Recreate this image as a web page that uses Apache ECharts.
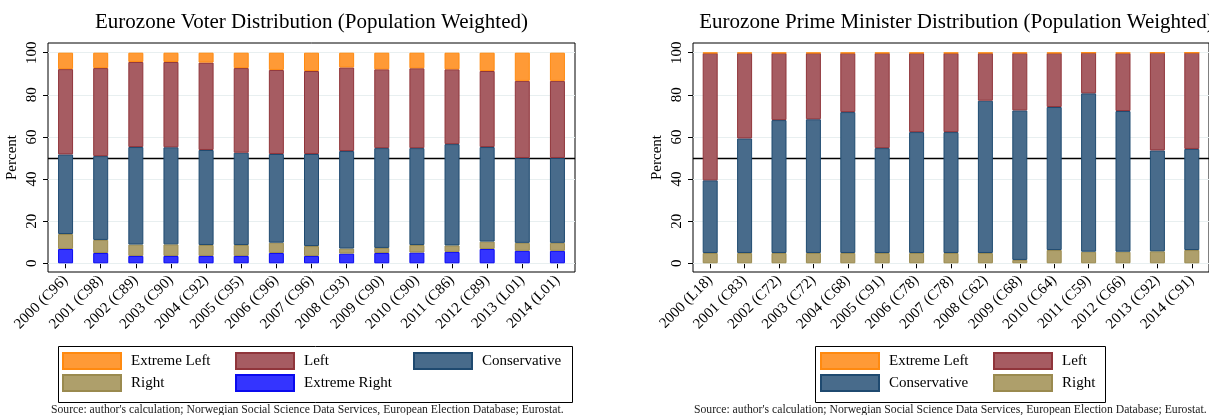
<!DOCTYPE html>
<html>
<head>
<meta charset="utf-8">
<script src="https://cdn.jsdelivr.net/npm/echarts@6/dist/echarts.min.js"></script>
<style>
  html, body { margin: 0; padding: 0; background: #fff; }
  #chart { width: 1209px; height: 415px; }
</style>
</head>
<body>
<div id="chart"></div>
<script>
// Year labels (largest party in brackets)
const voterYears = ['2000 (C96)', '2001 (C98)', '2002 (C89)', '2003 (C90)', '2004 (C92)', '2005 (C95)', '2006 (C96)', '2007 (C96)', '2008 (C93)', '2009 (C90)', '2010 (C90)', '2011 (C86)', '2012 (C89)', '2013 (L01)', '2014 (L01)'];
const pmYears = ['2000 (L18)', '2001 (C83)', '2002 (C72)', '2003 (C72)', '2004 (C68)', '2005 (C91)', '2006 (C78)', '2007 (C78)', '2008 (C62)', '2009 (C68)', '2010 (C64)', '2011 (C59)', '2012 (C66)', '2013 (C92)', '2014 (C91)'];

// Voter shares, percent
const voterExtremeRight = [6.8, 4.9, 3.5, 3.5, 3.5, 3.5, 4.9, 3.5, 4.6, 4.9, 5.1, 5.4, 6.8, 5.9, 5.9];
const voterRight = [7.1, 6.2, 5.4, 5.5, 5.2, 5.2, 4.9, 4.7, 2.4, 2.4, 3.6, 3.1, 3.5, 3.8, 3.8];
const voterConservative = [37.8, 39.8, 46.3, 46.1, 45.1, 43.8, 42.1, 43.7, 46.3, 47.4, 46.0, 48.1, 44.9, 40.3, 40.3];
const voterLeft = [40.5, 41.8, 40.4, 40.5, 41.5, 40.2, 39.9, 39.4, 39.7, 37.4, 37.9, 35.5, 36.1, 36.6, 36.6];
const voterExtremeLeft = [7.8, 7.3, 4.4, 4.4, 4.7, 7.3, 8.2, 8.7, 7.0, 7.9, 7.4, 7.9, 8.7, 13.4, 13.4];

// Prime minister shares, percent
const pmRight = [4.9, 4.9, 4.9, 4.9, 4.9, 4.9, 4.9, 4.9, 4.9, 1.6, 6.3, 5.5, 5.5, 5.7, 6.3];
const pmConservative = [34.5, 54.4, 63.1, 63.5, 66.9, 49.8, 57.4, 57.4, 72.3, 71.0, 67.9, 75.2, 66.8, 47.9, 48.0];
const pmLeft = [60.4, 40.5, 31.8, 31.4, 28.0, 45.1, 37.5, 37.5, 22.6, 27.2, 25.6, 19.3, 27.5, 46.4, 45.7];
const pmExtremeLeft = [0.2, 0.2, 0.2, 0.2, 0.2, 0.2, 0.2, 0.2, 0.2, 0.2, 0.2, 0, 0.2, 0, 0];

const yTicks = [0, 20, 40, 60, 80, 100];
const majorityLine = 50;

const SERIF = 'Liberation Serif';
const palette = {
  'Extreme Left': { fill: '#ff9a36', edge: '#ff8a10' },
  'Left': { fill: '#a65c62', edge: '#90353b' },
  'Conservative': { fill: '#486b8b', edge: '#1f4a70' },
  'Right': { fill: '#ae9f6b', edge: '#9a8a4f' },
  'Extreme Right': { fill: '#3434ff', edge: '#0a0aee' }
};

// faint gridlines plus the 50% majority line, kept underneath the bars
function refLines() {
  const lines = yTicks.map(v => ({ yAxis: v, lineStyle: { color: '#e8eff0', width: 1, type: 'solid' } }));
  lines.push({ yAxis: majorityLine, lineStyle: { color: '#000', width: 1.3, type: 'solid' } });
  return {
    silent: true, symbol: ['none', 'none'], label: { show: false }, z: 1,
    emphasis: { disabled: true }, data: lines
  };
}

function bar(name, data, idx, stack, withLines) {
  const s = {
    name, type: 'bar', stack, data, xAxisIndex: idx, yAxisIndex: idx,
    barWidth: 15,
    itemStyle: { color: palette[name].fill, borderColor: palette[name].edge, borderWidth: 1 },
    emphasis: { disabled: true },
    z: 3
  };
  if (withLines) s.markLine = refLines();
  return s;
}

function grid(left) {
  return { left, top: 43, width: 527, height: 229, show: true, borderColor: '#000', borderWidth: 1, backgroundColor: '#fff', containLabel: false };
}

function xAxis(idx, labels) {
  return {
    type: 'category', gridIndex: idx, data: labels, boundaryGap: true,
    axisLine: { show: true, lineStyle: { color: '#000', width: 1 } },
    axisTick: { show: true, alignWithLabel: true, length: 5, lineStyle: { color: '#000' } },
    axisLabel: { rotate: 45, margin: 6, interval: 0, fontFamily: SERIF, fontSize: 15, color: '#000' },
    splitLine: { show: false }
  };
}

function yAxis(idx) {
  return {
    type: 'value', gridIndex: idx, min: -4.13, max: 104.6,
    name: 'Percent', nameLocation: 'middle', nameGap: 28,
    nameTextStyle: { fontFamily: SERIF, fontSize: 15, color: '#000' },
    axisLine: { show: false },
    axisTick: { show: true, length: 5, customValues: yTicks, lineStyle: { color: '#000' } },
    axisLabel: { rotate: 90, margin: 8, customValues: yTicks, fontFamily: SERIF, fontSize: 15, color: '#000' },
    splitLine: { show: false }
  };
}

function legendItem(name, left, top) {
  return {
    data: [name], left, top, orient: 'horizontal', padding: 0,
    itemWidth: 58, itemHeight: 16, icon: 'rect', selectedMode: false,
    textStyle: { fontFamily: SERIF, fontSize: 15, color: '#000', padding: [0, 0, 0, 5] }
  };
}

const sourceNote = "Source: author's calculation; Norwegian Social Science Data Services, European Election Database; Eurostat.";

const chart = echarts.init(document.getElementById('chart'), null, { renderer: 'canvas' });
chart.setOption({
  backgroundColor: '#fff',
  animation: false,
  title: [
    { text: 'Eurozone Voter Distribution (Population Weighted)', left: 311.5, top: 12, textAlign: 'center', padding: 0,
      textStyle: { fontFamily: SERIF, fontSize: 21, fontWeight: 'normal', color: '#000' } },
    { text: 'Eurozone Prime Minister Distribution (Population Weighted)', left: 956.5, top: 12, textAlign: 'center', padding: 0,
      textStyle: { fontFamily: SERIF, fontSize: 21, fontWeight: 'normal', color: '#000' } }
  ],
  grid: [grid(48), grid(693)],
  xAxis: [xAxis(0, voterYears), xAxis(1, pmYears)],
  yAxis: [yAxis(0), yAxis(1)],
  legend: [
    legendItem('Extreme Left', 62, 352),
    legendItem('Left', 235, 352),
    legendItem('Conservative', 413, 352),
    legendItem('Right', 62, 374),
    legendItem('Extreme Right', 235, 374),
    legendItem('Extreme Left', 820, 352),
    legendItem('Left', 993, 352),
    legendItem('Conservative', 820, 374),
    legendItem('Right', 993, 374)
  ],
  graphic: [
    { type: 'rect', left: 56, top: 344, shape: { width: 514, height: 56 }, style: { fill: 'none', stroke: '#000', lineWidth: 1 }, silent: true },
    { type: 'rect', left: 813, top: 344, shape: { width: 290, height: 56 }, style: { fill: 'none', stroke: '#000', lineWidth: 1 }, silent: true },
    { type: 'text', left: 51, top: 404, style: { text: sourceNote, font: '11.7px "Liberation Serif"', fill: '#222' }, silent: true },
    { type: 'text', left: 694, top: 404, style: { text: sourceNote, font: '11.7px "Liberation Serif"', fill: '#222' }, silent: true }
  ],
  series: [
    bar('Extreme Right', voterExtremeRight, 0, 'voters', true),
    bar('Right', voterRight, 0, 'voters'),
    bar('Conservative', voterConservative, 0, 'voters'),
    bar('Left', voterLeft, 0, 'voters'),
    bar('Extreme Left', voterExtremeLeft, 0, 'voters'),
    bar('Right', pmRight, 1, 'pm', true),
    bar('Conservative', pmConservative, 1, 'pm'),
    bar('Left', pmLeft, 1, 'pm'),
    bar('Extreme Left', pmExtremeLeft, 1, 'pm')
  ]
});
</script>
</body>
</html>
